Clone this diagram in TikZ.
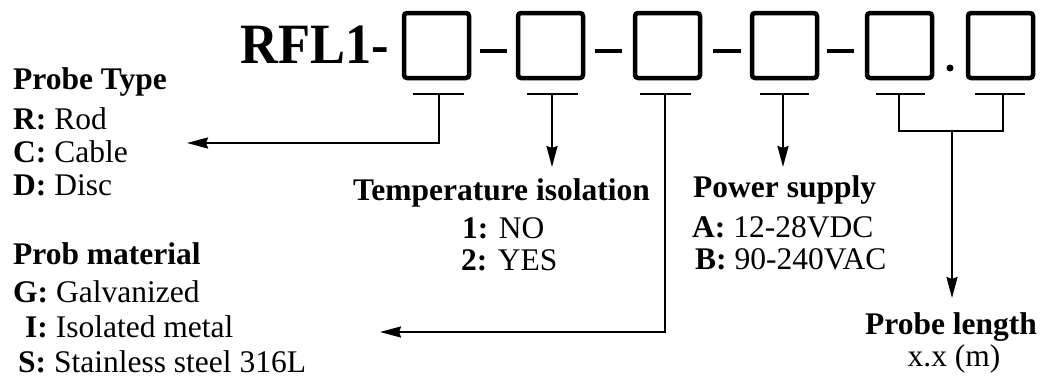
\documentclass[tikz,border=0pt]{standalone}
\usepackage{fontspec}
\setmainfont{Liberation Serif}
\newfontfamily\rflfont{Liberation Serif}[FakeStretch=0.92]
\usetikzlibrary{arrows.meta}
\tikzset{
  codebox/.style={draw, line width=4.5pt, rounded corners=3pt, minimum width=65pt, minimum height=65pt, inner sep=0pt},
  sep/.style={line width=3.5pt},
  bar/.style={line width=2.2pt},
  conn/.style={line width=2.2pt},
  arr/.style={conn, -{Stealth[length=21pt, width=11pt, inset=2pt]}},
  hd/.style={anchor=base west, inner sep=0pt, font=\fontsize{31.5}{31.5}\selectfont\bfseries},
  op/.style={anchor=base west, inner sep=0pt, font=\fontsize{31.5}{31.5}\selectfont},
}
\begin{document}
\begin{tikzpicture}[x=1pt, y=-1pt]
\useasboundingbox (0,0) rectangle (1042,380);
% title
\node[anchor=base west, inner sep=0pt, font=\rflfont\fontsize{57}{57}\selectfont\bfseries] (title) at (240,63) {RFL1-};
% boxes
\node[codebox] (b1) at (436.5,45.5) {};
\node[codebox] (b2) at (550.5,45.5) {};
\node[codebox] (b3) at (667.5,45.5) {};
\node[codebox] (b4) at (784.5,45.5) {};
\node[codebox] (b5) at (899.5,45.5) {};
\node[codebox] (b6) at (1000.5,45.5) {};
% separators
\coordinate (d1a) at (480,51); \coordinate (d1b) at (507,51);
\coordinate (d2a) at (595,51); \coordinate (d2b) at (622,51);
\coordinate (d3a) at (713,51); \coordinate (d3b) at (741,51);
\coordinate (d4a) at (827,51); \coordinate (d4b) at (854,51);
\draw[sep] (d1a) -- (d1b);
\draw[sep] (d2a) -- (d2b);
\draw[sep] (d3a) -- (d3b);
\draw[sep] (d4a) -- (d4b);
\node[circle, fill, inner sep=0pt, minimum size=7pt] (dot) at (950,68) {};
% bars
\coordinate (u1a) at (413,94); \coordinate (u1b) at (464,94); \coordinate (u1) at (439,94);
\coordinate (u2a) at (527,94); \coordinate (u2b) at (578,94); \coordinate (u2) at (552,94);
\coordinate (u3a) at (640,94); \coordinate (u3b) at (691,94); \coordinate (u3) at (665,94);
\coordinate (u4a) at (760,94); \coordinate (u4b) at (809,94); \coordinate (u4) at (783,94);
\coordinate (u5a) at (876,94); \coordinate (u5b) at (925,94); \coordinate (u5) at (899,94);
\coordinate (u6a) at (975,94); \coordinate (u6b) at (1025,94); \coordinate (u6) at (1003,94);
\draw[bar] (u1a) -- (u1b);
\draw[bar] (u2a) -- (u2b);
\draw[bar] (u3a) -- (u3b);
\draw[bar] (u4a) -- (u4b);
\draw[bar] (u5a) -- (u5b);
\draw[bar] (u6a) -- (u6b);
% arrow ends
\coordinate (e1) at (187,143);
\coordinate (e2) at (552,167);
\coordinate (e3) at (380,332);
\coordinate (e4) at (783,167);
\coordinate (m5) at (952,131);
\coordinate (e5) at (952,298);
% connectors
\draw[arr] (u1) |- (e1);
\draw[arr] (u2) -- (e2);
\draw[arr] (u3) |- (e3);
\draw[arr] (u4) -- (e4);
\draw[conn] (u5) |- (m5) -| (u6);
\draw[arr] (m5) -- (e5);
% Probe type
\node[hd] (pt) at (13,89) {Probe Type};
\node[op] (ptr) at (13,129) {\textbf{R:} Rod};
\node[op] (ptc) at (13,162) {\textbf{C:} Cable};
\node[op] (ptd) at (13,195) {\textbf{D:} Disc};
% Prob material
\node[hd] (pm) at (13,264) {Prob material};
\node[op] (pmg) at (13,302) {\textbf{G:} Galvanized};
\node[op] (pmi) at (25,337) {\textbf{I:} Isolated metal};
\node[op] (pms) at (18,372) {\textbf{S:} Stainless steel 316L};
% Temperature isolation
\node[hd] (ti) at (353,200) {Temperature isolation};
\node[op] (ti1) at (462,238) {\textbf{1:} NO};
\node[op] (ti2) at (461,270) {\textbf{2:} YES};
% Power supply
\node[hd] (ps) at (693,197) {Power supply};
\node[op] (psa) at (692,237) {\textbf{A:} 12-28VDC};
\node[op] (psb) at (695,269) {\textbf{B:} 90-240VAC};
% Probe length
\node[hd] (pl) at (865,334) {Probe length};
\node[op, anchor=base] (plx) at (954,366) {x.x (m)};
\end{tikzpicture}
\end{document}
